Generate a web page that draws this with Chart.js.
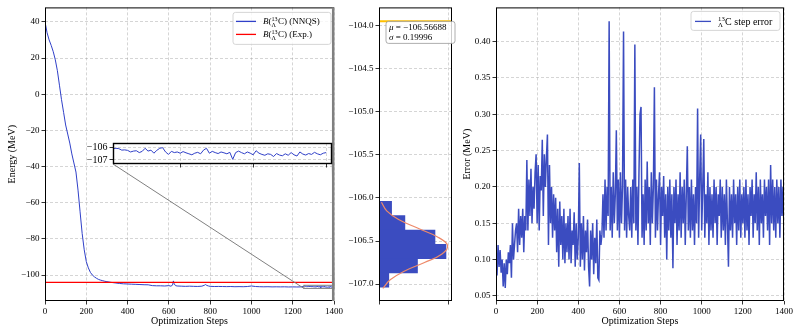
<!DOCTYPE html>
<html lang="en">
  <head>
    <meta charset="UTF-8" />
    <title>13C NNQS energy</title>
    <script src="https://cdn.jsdelivr.net/npm/chart.js"></script>
    <style>
      body { margin: 0; background: #fff; width: 795px; height: 327px; position: relative; overflow: hidden; }
      .box { position: absolute; }
    </style>
  </head>
  <body>
    <div class="box" id="energyBox" style="left:0;top:0;width:345px;height:327px"><canvas id="energyChart"></canvas></div>
    <div class="box" id="insetBox"><canvas id="insetChart"></canvas></div>
    <div class="box" id="histBox" style="left:340px;top:0;width:125px;height:327px"><canvas id="histChart"></canvas></div>
    <div class="box" id="errorBox" style="left:455px;top:0;width:340px;height:327px"><canvas id="errorChart"></canvas></div>

    <script>
      // ---- data ----
      const EXP_ENERGY = -103.95;

      const energySteps = [
        0, 10, 20, 30, 40, 50, 60, 70, 80, 90, 100, 110, 120, 130, 140, 150, 160, 170, 180, 190,
        200, 210, 220, 230, 240, 250, 260, 270, 280, 290, 300,
        320, 340, 360, 380, 400, 420, 440, 460, 480, 500, 520, 540, 560, 580, 600,
        610, 618, 622, 626, 632, 640, 660, 680, 700, 720, 740, 760, 772, 778, 784, 792, 800,
        820, 840, 860, 880, 900, 920, 940, 960, 980, 1000, 1020, 1040, 1060, 1080, 1100, 1120,
        1140, 1160, 1180, 1200, 1220, 1240,
      ];
      const energyValues = [
        40, 34, 30, 27, 23.5, 19, 13, 5, -3, -10, -17, -22, -27, -33, -38, -43, -53, -65, -77, -86,
        -92.5, -96, -98.5, -100, -101, -101.8, -102.4, -102.8, -103.1, -103.4, -103.6,
        -104.0, -104.3, -104.6, -104.8, -104.9, -105.0, -105.1, -105.2, -105.3, -105.35, -105.8, -105.9, -105.9, -106.0, -105.8,
        -106.1, -105.5, -103.2, -104.8, -105.8, -106.0, -106.1, -106.2, -106.1, -106.2, -106.25, -106.1, -105.6, -105.2, -105.7, -106.0, -106.2,
        -106.3, -106.25, -106.3, -106.35, -106.3, -106.4, -106.35, -106.4, -106.3, -106.0, -106.3, -106.4, -106.45, -106.4, -106.5, -106.45,
        -106.5, -106.45, -106.55, -106.5, -106.55, -106.5,
      ];
      // last part, one value every 2 steps from step 1250 (shown in the inset)
      const tailStart = 1250;
      const tailValues = [
        -106.30, -106.32, -106.10, -106.05, -106.08, -106.20, -106.18, -106.22, -106.35, -106.28,
        -106.25, -106.40, -106.30, -106.05, -106.28, -106.20, -106.45, -106.22, -106.05, -106.00,
        -106.35, -106.55, -106.30, -106.40, -106.35, -106.45, -106.32, -106.42, -106.50, -106.58,
        -106.45, -106.38, -106.50, -106.20, -106.05, -106.45, -106.30, -106.40, -106.48, -106.35,
        -106.42, -106.50, -106.38, -106.95, -106.40, -106.28, -106.40, -106.50, -106.35, -106.45,
        -106.58, -106.25, -106.45, -106.55, -106.62, -106.50, -106.55, -106.72, -106.48, -106.60,
        -106.66, -106.50, -106.62, -106.40, -106.58, -106.68, -106.35, -106.52, -106.60, -106.48,
        -106.55, -106.38, -106.50, -106.58, -106.45, -106.40,
      ];

      // histogram of the final energies (horizontal bars) and the gaussian fit
      const binCenters = [-106.123, -106.289, -106.455, -106.621, -106.787, -106.953];
      const binDensity = [0.18, 0.37, 0.8, 0.957, 0.55, 0.14];
      const fitEnergy = [-106.05, -106.15, -106.25, -106.35, -106.45, -106.55, -106.65, -106.75, -106.85, -106.95, -107.05];
      const fitDensity = [0.035, 0.11, 0.28, 0.55, 0.83, 0.98, 0.9, 0.65, 0.36, 0.16, 0.055];
      const fitMu = "\u2212106.56688";
      const fitSigma = "0.19996";

      // step error, one value every 5 steps
      const errorEvery = 5;
      const errorValues = [
        .11, .078, .12, .09, .113, .082, .10, .063, .095, .061,
        .10, .08, .11, .095, .12, .075, .15, .10, .12, .14,
        .15, .11, .17, .12, .16, .13, .17, .11, .16, .14,
        .237, .14, .21, .16, .225, .15, .20, .17, .22, .245,
        .15, .23, .14, .215, .195, .265, .16, .245, .20, .24,
        .272, .12, .23, .15, .20, .13, .19, .14, .185, .11,
        .17, .09, .18, .12, .16, .10, .17, .095, .15, .11,
        .16, .10, .17, .095, .14, .12, .165, .09, .15, .10,
        .13, .233, .09, .15, .10, .16, .085, .14, .11, .155,
        .09, .063, .14, .10, .15, .08, .13, .095, .155, .075,
        .072, .14, .12, .135, .19, .13, .21, .14, .20, .16,
        .428, .14, .20, .13, .22, .15, .19, .278, .14, .21,
        .13, .22, .15, .20, .414, .14, .21, .13, .20, .16,
        .14, .20, .13, .21, .15, .396, .14, .20, .12, .22,
        .30, .31, .13, .19, .12, .21, .14, .235, .15, .20,
        .12, .22, .15, .20, .337, .13, .21, .14, .19, .22,
        .12, .20, .16, .215, .13, .19, .10, .20, .14, .21,
        .13, .19, .088, .20, .15, .21, .12, .19, .14, .22,
        .13, .20, .15, .21, .12, .19, .256, .14, .20, .13,
        .21, .14, .19, .12, .20, .15, .308, .13, .21, .272,
        .14, .20, .266, .13, .19, .15, .22, .12, .20, .14,
        .19, .13, .21, .15, .20, .12, .19, .16, .21, .13,
        .20, .14, .19, .12, .21, .15, .09, .20, .14, .19,
        .13, .21, .15, .19, .12, .20, .14, .21, .13, .19,
        .15, .20, .13, .21, .14, .19, .12, .20, .16, .21,
        .13, .19, .15, .22, .14, .20, .12, .21, .15, .19,
        .13, .21, .16, .20, .14, .21, .12, .23, .15, .21,
        .14, .20, .13, .21, .15, .20, .13, .21, .16, .20,
        .14,
      ];

      // ticks
      const stepTicks = [0, 200, 400, 600, 800, 1000, 1200, 1400];
      const energyTicks = [-100, -80, -60, -40, -20, 0, 20, 40];
      const insetXTicks = [1300, 1350, 1400];
      const insetYTicks = [-107, -106];
      const histYTicks = [-107, -106.5, -106, -105.5, -105, -104.5, -104];
      const histXTicks = [0, 1];
      const errorTicks = [0.05, 0.1, 0.15, 0.2, 0.25, 0.3, 0.35, 0.4];

      // ---- styling ----
      const FONT = '"Liberation Serif", "DejaVu Serif", serif';
      const BLUE = "#3b4cc0";
      const LINE_BLUE = "#3040c8";
      const GRID = "rgba(150,150,150,0.5)";
      const INSET = { left: 80, top: 135, width: 260, height: 40, xMin: 1254, xMax: 1404, yMin: -107.33, yMax: -105.62 };

      const minus = (v, d) => {
        const s = d == null ? String(Math.abs(v)) : Math.abs(v).toFixed(d);
        return v < 0 ? "\u2212" + s : s;
      };

      function axis(o) {
        return {
          type: "linear",
          min: o.min,
          max: o.max,
          offset: false,
          afterBuildTicks: (s) => { s.ticks = o.ticks.map((v) => ({ value: v })); },
          afterFit: (s) => {
            if (s.isHorizontal()) s.height = o.size;
            else s.width = o.size;
          },
          grid: { offset: false, color: GRID, lineWidth: 0.8, tickLength: 3.5, tickColor: "#000", tickWidth: 0.8 },
          border: { display: false, dash: [3, 2] },
          ticks: {
            display: o.labels !== false,
            padding: 2,
            color: "#000",
            autoSkip: false,
            maxRotation: 0,
            font: { family: FONT, size: o.fontSize || 9 },
            callback: (v) => minus(v, o.digits),
          },
          title: o.title
            ? { display: true, text: o.title, color: "#000", font: { family: FONT, size: 10 }, padding: o.titlePad }
            : { display: false },
        };
      }

      const frame = {
        id: "frame",
        afterDatasetsDraw(chart) {
          const { ctx, chartArea: a } = chart;
          ctx.save();
          ctx.strokeStyle = "#000";
          ctx.lineWidth = chart.canvas.id === "insetChart" ? 1.4 : 1;
          ctx.strokeRect(a.left + 0.5, a.top + 0.5, a.right - a.left - 1, a.bottom - a.top - 1);
          ctx.restore();
        },
      };

      function roundBox(ctx, x, y, w, h, stroke) {
        ctx.save();
        ctx.beginPath();
        if (ctx.roundRect) ctx.roundRect(x, y, w, h, 2.5);
        else ctx.rect(x, y, w, h);
        ctx.fillStyle = "rgba(255,255,255,0.8)";
        ctx.fill();
        ctx.strokeStyle = stroke;
        ctx.lineWidth = 0.8;
        ctx.stroke();
        ctx.restore();
      }

      // text pieces: {t, it} or "iso" for the stacked 13 / Lambda
      function drawParts(ctx, x, y, size, parts) {
        ctx.fillStyle = "#000";
        ctx.textBaseline = "alphabetic";
        ctx.textAlign = "left";
        for (const p of parts) {
          if (p === "iso") {
            ctx.font = size * 0.68 + "px " + FONT;
            const w = Math.max(ctx.measureText("13").width, ctx.measureText("\u039b").width);
            ctx.fillText("13", x, y - size * 0.38);
            ctx.fillText("\u039b", x, y + size * 0.25);
            x += w + 0.3;
          } else {
            ctx.font = (p.it ? "italic " : "") + size + "px " + FONT;
            ctx.fillText(p.t, x, y);
            x += ctx.measureText(p.t).width;
          }
        }
      }

      const baseOptions = {
        responsive: true,
        maintainAspectRatio: false,
        animation: false,
        events: [],
        plugins: { legend: { display: false }, tooltip: { enabled: false } },
      };

      // ---- series built from the arrays ----
      const energyPoints = energySteps.map((s, i) => ({ x: s, y: energyValues[i] }));
      tailValues.forEach((v, i) => energyPoints.push({ x: tailStart + 2 * i, y: v }));
      const stepMax = stepTicks[stepTicks.length - 1];

      // ---- inset ----
      const insetBox = document.getElementById("insetBox");
      Object.assign(insetBox.style, {
        left: INSET.left + "px", top: INSET.top + "px", width: INSET.width + "px", height: INSET.height + "px",
      });
      const insetChart = new Chart(document.getElementById("insetChart"), {
        type: "line",
        data: {
          datasets: [{ data: energyPoints, borderColor: LINE_BLUE, borderWidth: 1, pointRadius: 0 }],
        },
        options: {
          ...baseOptions,
          layout: { padding: { top: 8, right: 8, left: 0, bottom: 0 } },
          scales: {
            x: axis({ min: INSET.xMin, max: INSET.xMax, ticks: insetXTicks, size: 11, labels: false }),
            y: axis({ min: INSET.yMin, max: INSET.yMax, ticks: insetYTicks, size: 33, fontSize: 10 }),
          },
        },
        plugins: [
          {
            id: "whiteBg",
            beforeDraw(chart) {
              const { ctx, chartArea: a } = chart;
              ctx.save();
              ctx.fillStyle = "#fff";
              ctx.fillRect(a.left, a.top, a.right - a.left, a.bottom - a.top);
              ctx.restore();
            },
          },
          frame,
        ],
      });

      // ---- energy ----
      new Chart(document.getElementById("energyChart"), {
        type: "line",
        data: {
          datasets: [
            { data: energyPoints, borderColor: LINE_BLUE, borderWidth: 1, pointRadius: 0, order: 2 },
            {
              data: [{ x: 0, y: EXP_ENERGY }, { x: stepMax, y: EXP_ENERGY }],
              borderColor: "#ff0000", borderWidth: 1.3, pointRadius: 0, order: 1,
            },
          ],
        },
        options: {
          ...baseOptions,
          layout: { padding: { top: 6, right: 10, left: 0, bottom: 0 } },
          scales: {
            x: axis({ min: 0, max: stepMax, ticks: stepTicks, size: 26, title: "Optimization Steps", titlePad: { top: 0, bottom: 0 } }),
            y: axis({ min: -114.3, max: 48, ticks: energyTicks, size: 45, title: "Energy (MeV)", titlePad: { top: 6, bottom: 0 } }),
          },
        },
        plugins: [
          frame,
          {
            id: "zoomMarks",
            afterDatasetsDraw(chart) {
              const { ctx, chartArea: a, scales } = chart;
              const ia = insetChart.chartArea;
              const x0 = scales.x.getPixelForValue(INSET.xMin);
              const x1 = Math.min(scales.x.getPixelForValue(INSET.xMax), a.right);
              const y0 = scales.y.getPixelForValue(INSET.yMax);
              const y1 = scales.y.getPixelForValue(INSET.yMin);
              ctx.save();
              ctx.strokeStyle = "#808080";
              ctx.lineWidth = 1;
              ctx.strokeRect(x0, y0, x1 - x0, y1 - y0);
              ctx.beginPath();
              ctx.moveTo(INSET.left + ia.left, INSET.top + ia.bottom);
              ctx.lineTo(x0, y1);
              ctx.moveTo(INSET.left + ia.right, INSET.top + ia.top);
              ctx.lineTo(x1, y0);
              ctx.stroke();
              ctx.lineWidth = 2.5;
              ctx.beginPath();
              ctx.moveTo(a.right - 0.8, a.top);
              ctx.lineTo(a.right - 0.8, a.bottom);
              ctx.stroke();
              ctx.restore();

              // legend
              const bx = a.right - 101, by = a.top + 5;
              roundBox(ctx, bx, by, 98, 32, "#cccccc");
              const rows = [
                { color: LINE_BLUE, tail: ") (NNQS)", y: by + 9 },
                { color: "#ff0000", tail: ") (Exp.)", y: by + 22 },
              ];
              rows.forEach((r) => {
                ctx.save();
                ctx.strokeStyle = r.color;
                ctx.lineWidth = 1.3;
                ctx.beginPath();
                ctx.moveTo(bx + 3, r.y);
                ctx.lineTo(bx + 23, r.y);
                ctx.stroke();
                drawParts(ctx, bx + 30, r.y + 3, 9, [{ t: "B", it: true }, { t: "(" }, "iso", { t: "C" + r.tail }]);
                ctx.restore();
              });
            },
          },
        ],
      });

      // ---- histogram ----
      const histXMax = 1.043;
      new Chart(document.getElementById("histChart"), {
        type: "bar",
        data: {
          datasets: [
            {
              type: "bar", indexAxis: "y",
              data: binCenters.map((c, i) => ({ x: binDensity[i], y: c })),
              backgroundColor: BLUE, borderWidth: 0, barPercentage: 1, categoryPercentage: 1, order: 3,
            },
            {
              type: "line", indexAxis: "y",
              data: fitEnergy.map((e, i) => ({ x: fitDensity[i], y: e })),
              borderColor: "#ee8a6a", borderWidth: 1.2, pointRadius: 0, tension: 0.4, order: 1,
            },
            {
              type: "line", indexAxis: "y",
              data: [{ x: 0, y: EXP_ENERGY }, { x: histXMax, y: EXP_ENERGY }],
              borderColor: "#ffc000", borderWidth: 2, pointRadius: 0, order: 2,
            },
          ],
        },
        options: {
          ...baseOptions,
          layout: { padding: { top: 6, right: 13, left: 0, bottom: 0 } },
          scales: {
            x: axis({ min: 0, max: histXMax, ticks: histXTicks, size: 26, labels: false }),
            y: axis({ min: -107.196, max: -103.79, ticks: histYTicks, size: 39, digits: 1 }),
          },
        },
        plugins: [
          frame,
          {
            id: "fitText",
            afterDatasetsDraw(chart) {
              const { ctx, chartArea: a } = chart;
              const bx = a.left + 7, by = a.top + 14;
              roundBox(ctx, bx, by, 69, 22, "#999999");
              drawParts(ctx, bx + 3, by + 9, 9, [{ t: "\u03bc", it: true }, { t: " = " + fitMu }]);
              drawParts(ctx, bx + 3, by + 19, 9, [{ t: "\u03c3", it: true }, { t: " = " + fitSigma }]);
            },
          },
        ],
      });

      // ---- step error ----
      new Chart(document.getElementById("errorChart"), {
        type: "line",
        data: {
          datasets: [
            {
              data: errorValues.map((v, i) => ({ x: i * errorEvery, y: v })),
              borderColor: BLUE, borderWidth: 1.5, pointRadius: 0,
            },
          ],
        },
        options: {
          ...baseOptions,
          layout: { padding: { top: 6, right: 9, left: 0, bottom: 0 } },
          scales: {
            x: axis({ min: 0, max: stepMax, ticks: stepTicks, size: 26, title: "Optimization Steps", titlePad: { top: 0, bottom: 0 } }),
            y: axis({ min: 0.043, max: 0.447, ticks: errorTicks, size: 41, digits: 2, title: "Error (MeV)", titlePad: { top: 6, bottom: 0 } }),
          },
        },
        plugins: [
          frame,
          {
            id: "errLegend",
            afterDatasetsDraw(chart) {
              const { ctx, chartArea: a } = chart;
              const bx = a.right - 93, by = a.top + 4;
              roundBox(ctx, bx, by, 89, 19, "#cccccc");
              ctx.save();
              ctx.strokeStyle = BLUE;
              ctx.lineWidth = 1.3;
              ctx.beginPath();
              ctx.moveTo(bx + 4, by + 10);
              ctx.lineTo(bx + 20, by + 10);
              ctx.stroke();
              drawParts(ctx, bx + 27, by + 13.5, 10, ["iso", { t: "C step error" }]);
              ctx.restore();
            },
          },
        ],
      });
    </script>
  </body>
</html>
